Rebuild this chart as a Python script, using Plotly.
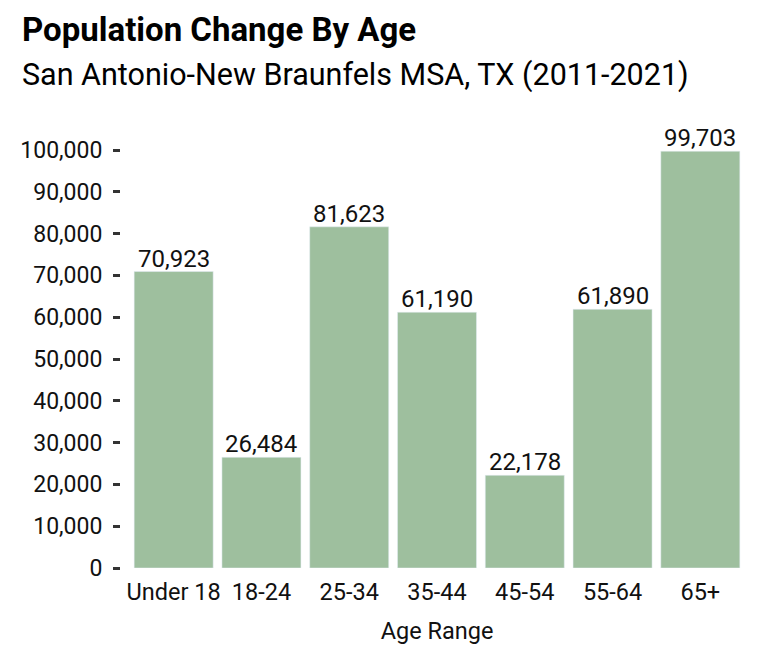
import plotly.graph_objects as go

categories = ["Under 18", "18-24", "25-34", "35-44", "45-54", "55-64", "65+"]
values = [70923, 26484, 81623, 61190, 22178, 61890, 99703]
labels = [f"{v:,}" for v in values]
tick_vals = [0, 10000, 20000, 30000, 40000, 50000, 60000, 70000, 80000, 90000, 100000]
tick_text = [f"{v:,}" for v in tick_vals]

OFF = 8  # default page body margin
W, H = 762, 652
L, R, T, B = 110, 17, 122, 92
ph = H - T - B
pw = W - L - R

def px_x(x):
    return (x - OFF - L) / pw

def px_y(y):
    return (OFF + T + ph - y) / ph

fig = go.Figure(go.Bar(
    x=categories, y=values, marker=dict(color="#9ebf9e"),
    cliponaxis=False, hoverinfo="skip",
))

bar_labels = [
    dict(text=t, x=c, y=v, xref="x", yref="y", xanchor="center", yanchor="bottom",
         yshift=-3, showarrow=False, font=dict(size=24, color="#111"))
    for c, v, t in zip(categories, values, labels)
]

fig.update_layout(
    width=W, height=H, margin=dict(l=L, r=R, t=T, b=B),
    paper_bgcolor="white", plot_bgcolor="white",
    font=dict(family="Roboto", color="#111"),
    bargap=0.1, showlegend=False,
    xaxis=dict(range=[-0.6, 6.6], showgrid=False, zeroline=False, showline=False,
               ticks="", tickfont=dict(size=23.5, color="#111"), ticklabelstandoff=7,
               title=dict(text="Age Range", font=dict(size=23.5, color="#111"), standoff=18)),
    yaxis=dict(range=[0, ph / 418 * 100000], showgrid=False, zeroline=False, showline=False,
               tickvals=tick_vals, ticktext=tick_text, ticks="outside", ticklen=7,
               tickwidth=3, tickcolor="#333", ticklabelstandoff=6,
               tickfont=dict(size=23, color="#111")),
    annotations=bar_labels + [
        dict(text="<b>Population Change By Age</b>", xref="paper", yref="paper",
             x=px_x(17), y=px_y(30), xanchor="left", yanchor="middle", showarrow=False,
             font=dict(size=33, color="#000")),
        dict(text="San Antonio-New Braunfels MSA, TX (2011-2021)", xref="paper", yref="paper",
             x=px_x(17), y=px_y(75), xanchor="left", yanchor="middle", showarrow=False,
             font=dict(size=30.5, color="#000")),
    ],
)

fig.write_html("out.html")
